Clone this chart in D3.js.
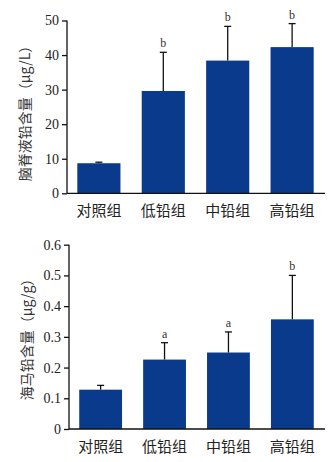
<!DOCTYPE html>
<html><head><meta charset="utf-8">
<script src="https://cdn.jsdelivr.net/npm/d3@7"></script>
<style>
body{margin:0;background:#fff;}
svg{display:block;}
.tick text{font-family:"Liberation Serif","Times New Roman",serif;font-size:14px;fill:#222;}
</style></head>
<body>
<svg id="c" width="331" height="462"></svg>
<script>
const categories = ["对照组","低铅组","中铅组","高铅组"];
const csfValues = [8.7, 29.6, 38.4, 42.3];
const csfErrors = [0.3, 11.2, 9.9, 6.8];
const csfLetters = ["", "b", "b", "b"];
const csfTicks = [0,10,20,30,40,50];
const hipValues = [0.128, 0.226, 0.249, 0.357];
const hipErrors = [0.014, 0.055, 0.067, 0.143];
const hipLetters = ["", "a", "a", "b"];
const hipTicks = [0,0.1,0.2,0.3,0.4,0.5,0.6];

const svg = d3.select("#c");
const barColor = "#0a3a8c";
const cjk = "'Noto Sans CJK SC','Noto Sans',sans-serif";

function panel(cfg){
  const g = svg.append("g");
  const x = d3.scaleBand().domain(categories).range([cfg.left, 324]).paddingInner(0.33).paddingOuter(0.16);
  const y = d3.scaleLinear().domain([0, cfg.max]).range([cfg.bottom, cfg.top]);
  // bars
  g.selectAll("rect").data(cfg.values).enter().append("rect")
    .attr("x",(d,i)=>x(categories[i])).attr("width",x.bandwidth())
    .attr("y",d=>y(d)).attr("height",d=>y(0)-y(d)).attr("fill",barColor);
  // error bars
  cfg.values.forEach((v,i)=>{
    const cx = x(categories[i]) + x.bandwidth()/2;
    const top = y(v + cfg.errors[i]);
    g.append("line").attr("x1",cx).attr("x2",cx).attr("y1",y(v)).attr("y2",top)
      .attr("stroke","#111").attr("stroke-width",1.3);
    g.append("line").attr("x1",cx-3.5).attr("x2",cx+3.5).attr("y1",top).attr("y2",top)
      .attr("stroke","#111").attr("stroke-width",1.3);
    if(cfg.letters[i]){
      g.append("text").attr("x",cx).attr("y",top-5).attr("text-anchor","middle")
        .style("font-family","'Liberation Serif',serif").style("font-size","12px").attr("fill","#333")
        .text(cfg.letters[i]);
    }
  });
  // y axis
  const ya = g.append("g").attr("transform",`translate(${cfg.left},0)`)
    .call(d3.axisLeft(y).tickValues(cfg.ticks).tickSize(5).tickPadding(3).tickFormat(cfg.fmt));
  ya.selectAll("path,line").attr("stroke","#111").attr("stroke-width",1.3);
  ya.select(".domain").attr("d",`M0,${cfg.top}V${cfg.bottom}`);
  // x axis
  const xa = g.append("g").attr("transform",`translate(0,${cfg.bottom})`)
    .call(d3.axisBottom(x).tickSize(0).tickPadding(12));
  xa.select(".domain").attr("d",`M${cfg.left},0H325`).attr("stroke","#111").attr("stroke-width",1.3);
  xa.selectAll(".tick text").style("font-family",cjk).style("font-size","15px").attr("fill","#222");
  // y label
  g.append("text").attr("transform",`translate(${cfg.labelX},${cfg.labelY}) rotate(-90)`)
    .attr("text-anchor","middle").style("font-family",cjk).style("font-size","14px").attr("fill","#333")
    .text(cfg.label);
}

panel({left:67, top:20.5, bottom:193.3, max:50, values:csfValues, errors:csfErrors, letters:csfLetters,
  ticks:csfTicks, fmt:d3.format("d"), label:"脑脊液铅含量（μg/L）", labelX:30, labelY:110});
panel({left:69, top:244.7, bottom:429, max:0.6, values:hipValues, errors:hipErrors, letters:hipLetters,
  ticks:hipTicks, fmt:d=>d===0?"0":d3.format(".1f")(d), label:"海马铅含量（μg/g）", labelX:32, labelY:336});
</script>
</body></html>
